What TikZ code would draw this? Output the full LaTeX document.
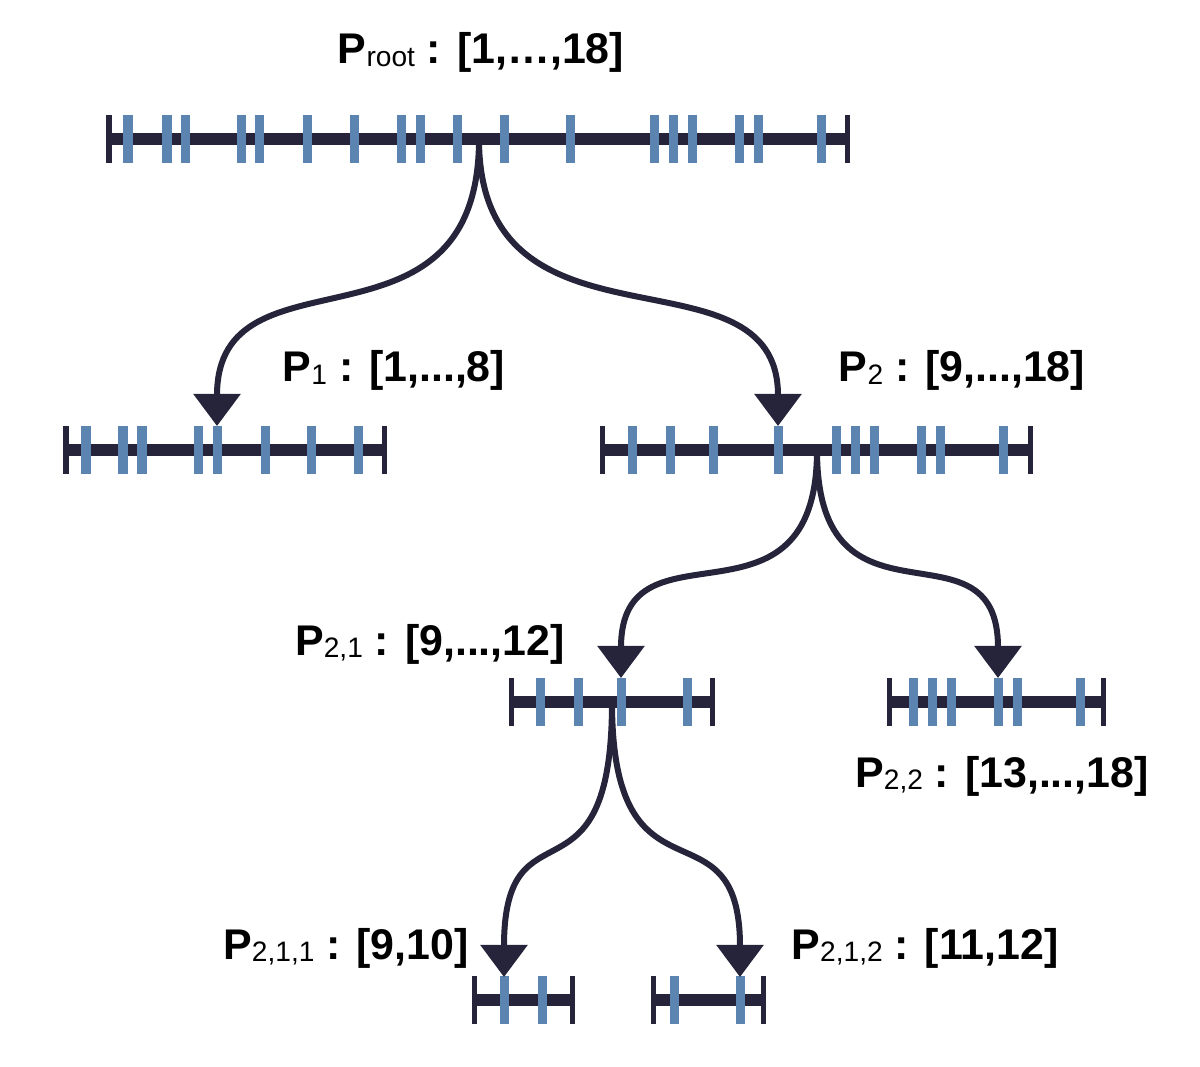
\documentclass[tikz,border=0pt]{standalone}
\usepackage{fontspec}
\setmainfont{Liberation Sans}
\usetikzlibrary{arrows.meta}

\definecolor{barcol}{HTML}{25243A}
\definecolor{tickcol}{HTML}{5B84B1}

\newcommand{\psub}[1]{{\mdseries\fontsize{8}{9}\selectfont\raisebox{-0.8pt}{#1}}}

\begin{document}
\begin{tikzpicture}[x=0.01cm, y=-0.01cm,
  bar/.style={barcol, line width=0.115cm},
  endcap/.style={barcol, line width=0.05cm},
  elem/.style={tickcol, line width=0.09cm},
  splitarrow/.style={barcol, line width=0.06cm, -{Triangle[width=0.46cm,length=0.32cm]}},
  lbl/.style={font=\fontsize{12.2}{14}\selectfont\bfseries, inner sep=0pt, anchor=base}]
\useasboundingbox (0,0) rectangle (1200,1067);

% root
\draw[bar] (109,139) -- (847,139);
\draw[endcap] (109,115) -- (109,163);
\draw[endcap] (847,115) -- (847,163);
\foreach \x in {128,167,185,241,259,307,354,401,420,457,504,570,654,673,692,739,758,821}
  \draw[elem] (\x,115) -- (\x,163);
\node[lbl] (root) at (481,64) {P\psub{root} : [1,…,18]};

% P1
\draw[bar] (66,450) -- (384,450);
\draw[endcap] (66,426) -- (66,474);
\draw[endcap] (384,426) -- (384,474);
\foreach \x in {86,123,142,198,217,265,311,358}
  \draw[elem] (\x,426) -- (\x,474);
\node[lbl] (p1) at (394,382) {P\psub{1} : [1,...,8]};

% P2
\draw[bar] (602,450) -- (1030,450);
\draw[endcap] (602,426) -- (602,474);
\draw[endcap] (1030,426) -- (1030,474);
\foreach \x in {632,670,713,778,836,855,874,921,940,1003}
  \draw[elem] (\x,426) -- (\x,474);
\node[lbl] (p2) at (962,382) {P\psub{2} : [9,...,18]};

% P2,1
\draw[bar] (511,702) -- (712,702);
\draw[endcap] (511,678) -- (511,726);
\draw[endcap] (712,678) -- (712,726);
\foreach \x in {540,578,621,687}
  \draw[elem] (\x,678) -- (\x,726);
\node[lbl] (p21) at (430,655) {P\psub{2,1} : [9,...,12]};

% P2,2
\draw[bar] (889,702) -- (1103,702);
\draw[endcap] (889,678) -- (889,726);
\draw[endcap] (1103,678) -- (1103,726);
\foreach \x in {913,932,951,998,1017,1080}
  \draw[elem] (\x,678) -- (\x,726);
\node[lbl] (p22) at (1002,787) {P\psub{2,2} : [13,...,18]};

% P2,1,1 and P2,1,2
\draw[bar] (474,1000) -- (572,1000);
\draw[endcap] (474,976) -- (474,1024);
\draw[endcap] (572,976) -- (572,1024);
\foreach \x in {504,542}
  \draw[elem] (\x,976) -- (\x,1024);
\node[lbl] (p211) at (346,959) {P\psub{2,1,1} : [9,10]};

\draw[bar] (653,1000) -- (763,1000);
\draw[endcap] (653,976) -- (653,1024);
\draw[endcap] (763,976) -- (763,1024);
\foreach \x in {674,740}
  \draw[elem] (\x,976) -- (\x,1024);
\node[lbl] (p212) at (925,959) {P\psub{2,1,2} : [11,12]};

% split points
\coordinate (root-out) at (479,139);
\coordinate (p1-in) at (217,426);
\coordinate (p2-in) at (778,426);
\coordinate (p2-out) at (817,450);
\coordinate (p21-in) at (621,678);
\coordinate (p22-in) at (998,678);
\coordinate (p21-out) at (612,702);
\coordinate (p211-in) at (504,977);
\coordinate (p212-in) at (740,977);

\draw[splitarrow] (root-out) .. controls +(0,230) and +(0,-187) .. (p1-in);
\draw[splitarrow] (root-out) .. controls +(0,230) and +(0,-187) .. (p2-in);
\draw[splitarrow] (p2-out) .. controls +(0,196) and +(0,-166) .. (p21-in);
\draw[splitarrow] (p2-out) .. controls +(0,196) and +(0,-166) .. (p22-in);
\draw[splitarrow] (p21-out) .. controls +(0,216) and +(0,-183) .. (p211-in);
\draw[splitarrow] (p21-out) .. controls +(0,216) and +(0,-183) .. (p212-in);

\end{tikzpicture}
\end{document}
